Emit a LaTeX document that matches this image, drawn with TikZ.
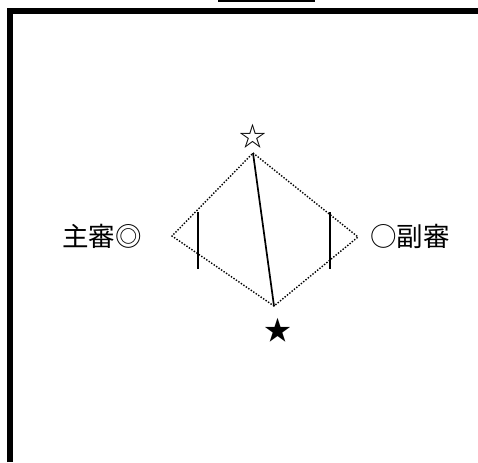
\documentclass[tikz,border=0pt]{standalone}
\usepackage{fontspec}
\newfontfamily\cjk{Noto Sans CJK JP}
\begin{document}
\begin{tikzpicture}[x=1pt,y=-1pt,
  lbl/.style={font=\cjk\fontsize{26.5}{26.5}\selectfont, inner sep=0pt},
  starmark/.style={font=\cjk\fontsize{27}{27}\selectfont, inner sep=0pt},
  court/.style={dash pattern=on 1.4pt off 1.6pt, line width=1.4pt},
  solidline/.style={line width=1.7pt},
  frame/.style={line width=5.5pt}]
\useasboundingbox (0,0) rectangle (478,462);
\fill (218,0) rectangle (315,2.5);
\draw[frame] (10,462) -- (10,11) -- (478,11);
\coordinate (T) at (253,153);
\coordinate (B) at (274,306);
\coordinate (L) at (172,236);
\coordinate (R) at (358,237);
\draw[court] (T) -- (R) -- (B) -- (L) -- cycle;
\draw[solidline] (T) -- (B);
\coordinate (l1) at (198,212); \coordinate (l2) at (198,269);
\coordinate (r1) at (330,212); \coordinate (r2) at (330,269);
\draw[solidline] (l1) -- (l2);
\draw[solidline] (r1) -- (r2);
\node[starmark] (ws) at (253,136) {☆};
\node[starmark] (bs) at (278,330) {★};
\node[lbl] (main) at (102,236) {主審◎};
\node[lbl] (sub) at (410,236) {○副審};
\end{tikzpicture}
\end{document}
